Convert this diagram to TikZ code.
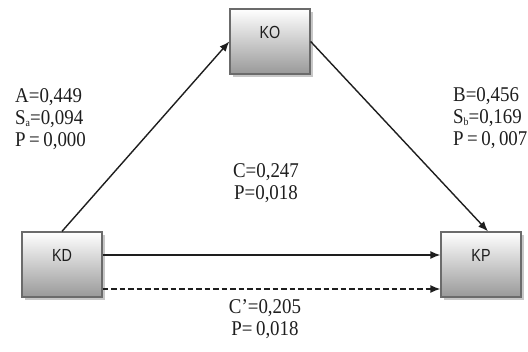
\documentclass[tikz,border=0pt]{standalone}
\usepackage{fontspec}
\setmainfont{Liberation Serif}
\newfontfamily\labfont[FakeStretch=0.9]{Liberation Serif}
\newfontfamily\boxfont[FakeStretch=0.82]{Liberation Sans}
\usetikzlibrary{arrows.meta,shadows}
\definecolor{boxedge}{HTML}{6B6B6B}
\definecolor{boxlow}{HTML}{999999}
\definecolor{ink}{HTML}{1E1E1E}
\tikzset{
  varbox/.style={draw=boxedge, line width=1.3pt, top color=white, bottom color=boxlow,
    minimum width=80pt, minimum height=65pt, inner sep=0pt,
    drop shadow={shadow xshift=3pt, shadow yshift=-3pt, fill=black, opacity=0.22}},
  boxtext/.style={font=\boxfont\fontsize{17.5}{17.5}\selectfont, text=ink, inner sep=0pt},
  coef/.style={font=\labfont\fontsize{21}{22}\selectfont, text=ink, inner sep=0pt},
  path/.style={draw=ink, line width=1.4pt, -{Latex[length=10pt,width=8pt]}},
}
\newcommand{\lowsub}[1]{\raisebox{-0.12em}{\fontsize{11}{11}\selectfont #1}}
\begin{document}
\begin{tikzpicture}[x=1pt,y=-1pt]
  \useasboundingbox (0,0) rectangle (528,352);

  % variables
  \node[varbox] (KO) at (270,41.5) {};
  \node[varbox] (KD) at (62,264.5) {};
  \node[varbox] (KP) at (481,264.5) {};
  \node[boxtext] (KO-t) at ([yshift=9pt]KO.center) {KO};
  \node[boxtext] (KD-t) at ([yshift=9pt]KD.center) {KD};
  \node[boxtext] (KP-t) at ([yshift=9pt]KP.center) {KP};

  % paths
  \draw[path] (KD.north) -- (KO.west);
  \draw[path] (KO.east) -- ([xshift=7pt]KP.north);
  \draw[path] ([yshift=9.5pt]KD.east) -- ([yshift=9.5pt]KP.west);
  \draw[path, dash pattern=on 5.5pt off 3pt] ([yshift=-24.5pt]KD.east) -- ([yshift=-24.5pt]KP.west);

  % coefficients
  \node[coef, align=left, anchor=west] (labA) at (15,119)
    {A=0,449\\S\lowsub{a}=0,094\\P\,=\,0,000};
  \node[coef, align=left, anchor=west] (labB) at (453,118)
    {B=0,456\\S\lowsub{b}=0,169\\P\,=\,0,\,007};
  \node[coef, align=center] (labC) at (266,183)
    {C=0,247\\P=0,018};
  \node[coef, align=center] (labCp) at (265,319.5)
    {C’=0,205\\P=\,0,018};
\end{tikzpicture}
\end{document}
